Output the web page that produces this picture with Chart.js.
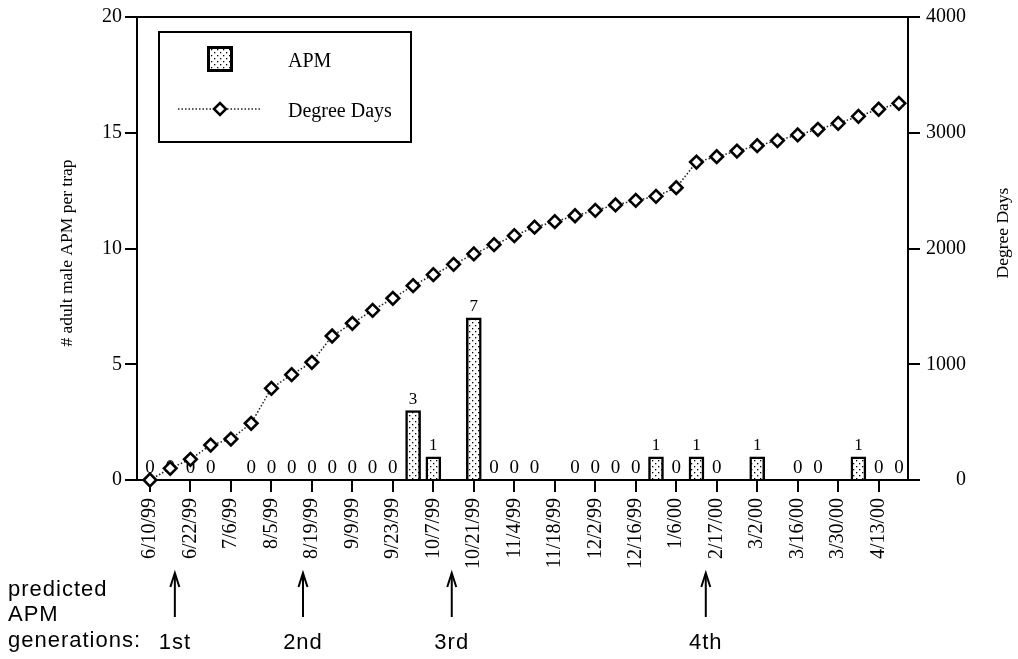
<!DOCTYPE html>
<html><head><meta charset="utf-8">
<script src="https://cdn.jsdelivr.net/npm/chart.js"></script>
<style>html,body{margin:0;padding:0;background:#fff;} canvas{display:block;}</style>
</head><body>
<canvas id="c" width="1018" height="659"></canvas>
<script>
// ---- data ----
const dateLabels = ['6/10/99','6/22/99','7/6/99','8/5/99','8/19/99','9/9/99','9/23/99','10/7/99','10/21/99','11/4/99','11/18/99','12/2/99','12/16/99','1/6/00','2/17/00','3/2/00','3/16/00','3/30/00','4/13/00'];
const dateTickIndex = [0,2,4,6,8,10,12,14,16,18,20,22,24,26,28,30,32,34,36];
const apmCounts = [0,0,0,0,null,0,0,0,0,0,0,0,0,3,1,null,7,0,0,0,null,0,0,0,0,1,0,1,0,null,1,null,0,0,null,1,0,0];
const degreeDays = [0,101,179,302,354,490,792,910,1017,1244,1354,1466,1570,1679,1774,1863,1953,2033,2111,2184,2232,2283,2330,2376,2416,2451,2525,2747,2793,2842,2888,2932,2981,3030,3081,3142,3203,3254];
const leftTicks = [0,5,10,15,20];
const rightTicks = [0,1000,2000,3000,4000];
const generationLabels = ['1st','2nd','3rd','4th'];
const generationPositions = [1.23, 7.56, 14.91, 27.46];
const legendLabels = ['APM','Degree Days'];
const leftTitle = '# adult male APM per trap';
const rightTitle = 'Degree Days';
const noteLines = ['predicted','APM','generations:'];

// ---- styles ----
const SERIF = '"Liberation Serif", "Times New Roman", serif';
const SANS = '"Liberation Sans", Arial, sans-serif';
const ctx0 = document.getElementById('c').getContext('2d');
function makePattern(){
  const p = document.createElement('canvas'); p.width = 6; p.height = 6;
  const g = p.getContext('2d');
  g.fillStyle = '#fff'; g.fillRect(0,0,6,6);
  g.fillStyle = '#000';
  g.fillRect(1,1,1.3,1.3); g.fillRect(4,4,1.3,1.3);
  return ctx0.createPattern(p,'repeat');
}
const dots = makePattern();

const apmData = apmCounts.map((v,i)=>({x:i, y:v}));
const ddData = degreeDays.map((v,i)=>({x:i, y:v}));

function diamond(ctx, x, y, r){
  ctx.beginPath();
  ctx.moveTo(x-r,y); ctx.lineTo(x,y-r); ctx.lineTo(x+r,y); ctx.lineTo(x,y+r); ctx.closePath();
  ctx.fillStyle='#fff'; ctx.fill();
  ctx.lineWidth=2.5; ctx.strokeStyle='#000'; ctx.stroke();
}

const decor = {
  id:'decor',
  beforeDatasetsDraw(chart){
    const ctx = chart.ctx;
    const meta = chart.getDatasetMeta(1);
    ctx.save();
    ctx.fillStyle = '#000';
    ctx.textAlign = 'center'; ctx.textBaseline = 'alphabetic';
    meta.data.forEach((el,i)=>{
      const v = apmCounts[i];
      if (v === null || v === undefined) return;
      ctx.font = (v === 0 ? '19px ' : '17px ') + SERIF;
      ctx.fillText(String(v), el.x, el.y - 7);
    });
    ctx.restore();
  },
  afterDraw(chart){
    const ctx = chart.ctx;
    const a = chart.chartArea;
    ctx.save();
    // top frame line
    ctx.strokeStyle='#000'; ctx.lineWidth=2;
    ctx.beginPath(); ctx.moveTo(a.left-1, a.top); ctx.lineTo(a.right+1, a.top); ctx.stroke();
    // legend
    ctx.lineWidth=2; ctx.strokeRect(159,32,252,110);
    ctx.fillStyle = dots; ctx.fillRect(208,47,24,24);
    ctx.lineWidth=3; ctx.strokeRect(208.5,47.5,23,23);
    ctx.setLineDash([1.5,2]); ctx.lineWidth=1.5; ctx.strokeStyle='#222';
    ctx.beginPath(); ctx.moveTo(178,109); ctx.lineTo(262,109); ctx.stroke();
    ctx.setLineDash([]);
    diamond(ctx,220,109,6);
    ctx.fillStyle='#000'; ctx.font='20px '+SERIF; ctx.textAlign='left'; ctx.textBaseline='middle';
    ctx.fillText(legendLabels[0], 288, 62);
    ctx.fillText(legendLabels[1], 288, 112);
    // axis titles
    ctx.font='17.5px '+SERIF; ctx.textAlign='center'; ctx.textBaseline='middle';
    ctx.save(); ctx.translate(67,253); ctx.rotate(-Math.PI/2); ctx.fillText(leftTitle,0,0); ctx.restore();
    ctx.save(); ctx.translate(1003,233); ctx.rotate(-Math.PI/2); ctx.fillText(rightTitle,0,0); ctx.restore();
    // generation annotations
    const xs = chart.scales.x;
    ctx.font='22px '+SANS; ctx.letterSpacing='1px';
    ctx.textAlign='left';
    ctx.fillText(noteLines[0], 8, 590);
    ctx.fillText(noteLines[1], 8, 615);
    ctx.fillText(noteLines[2], 8, 641);
    ctx.textAlign='center';
    ctx.strokeStyle='#000'; ctx.lineWidth=2;
    generationPositions.forEach((p,i)=>{
      const x = xs.getPixelForValue(p);
      ctx.beginPath(); ctx.moveTo(x,617); ctx.lineTo(x,574); ctx.stroke();
      ctx.beginPath(); ctx.moveTo(x-4.5,587); ctx.lineTo(x,573); ctx.lineTo(x+4.5,587); ctx.stroke();
      ctx.fillText(generationLabels[i], x, 643);
    });
    ctx.restore();
  }
};

const axisGrid = { drawOnChartArea:false, drawTicks:true, tickLength:12, color:'#000', lineWidth:2, offset:false };
const axisBorder = { display:true, color:'#000', width:2 };

new Chart(document.getElementById('c'), {
  type:'bar',
  data:{
    datasets:[
      { type:'line', label:legendLabels[1], data:ddData, yAxisID:'y2', order:0,
        borderColor:'#222', borderWidth:1.5, borderDash:[1.5,2], tension:0, fill:false, clip:false,
        pointStyle:'rectRot', pointRadius:6.3, pointBorderWidth:2.6, pointBackgroundColor:'#fff', pointBorderColor:'#000', pointHoverRadius:6.3 },
      { type:'bar', label:legendLabels[0], data:apmData, yAxisID:'y', order:1,
        backgroundColor:dots, borderColor:'#000', borderWidth:2.5, barThickness:15 }
    ]
  },
  options:{
    responsive:false, animation:false, devicePixelRatio:1,
    layout:{ padding:{ top:17, left:0, right:52, bottom:0 } },
    plugins:{ legend:{display:false}, tooltip:{enabled:false}, title:{display:false} },
    scales:{
      x:{ type:'linear', bounds:'data', min:-0.64, max:37.45, offset:false,
        afterBuildTicks:s=>{ s.ticks = dateTickIndex.map(v=>({value:v})); },
        afterFit:s=>{ s.height = 179; },
        grid:axisGrid, border:axisBorder,
        ticks:{ autoSkip:false, minRotation:90, maxRotation:90, padding:6, color:'#000',
          font:{family:SERIF, size:20}, callback:(v,i)=>dateLabels[i] } },
      y:{ type:'linear', position:'left', bounds:'data', min:0, max:20,
        afterBuildTicks:s=>{ s.ticks = leftTicks.map(v=>({value:v})); },
        afterFit:s=>{ s.width = 137; },
        grid:axisGrid, border:axisBorder,
        ticks:{ padding:3, color:'#000', font:{family:SERIF, size:20}, callback:v=>String(v) } },
      y2:{ type:'linear', position:'right', bounds:'data', min:0, max:4000,
        afterBuildTicks:s=>{ s.ticks = rightTicks.map(v=>({value:v})); },
        afterFit:s=>{ s.width = 58; },
        grid:axisGrid, border:axisBorder,
        ticks:{ padding:5, crossAlign:'far', color:'#000', font:{family:SERIF, size:20}, callback:v=>String(v) } }
    }
  },
  plugins:[decor]
});
</script>
</body></html>
